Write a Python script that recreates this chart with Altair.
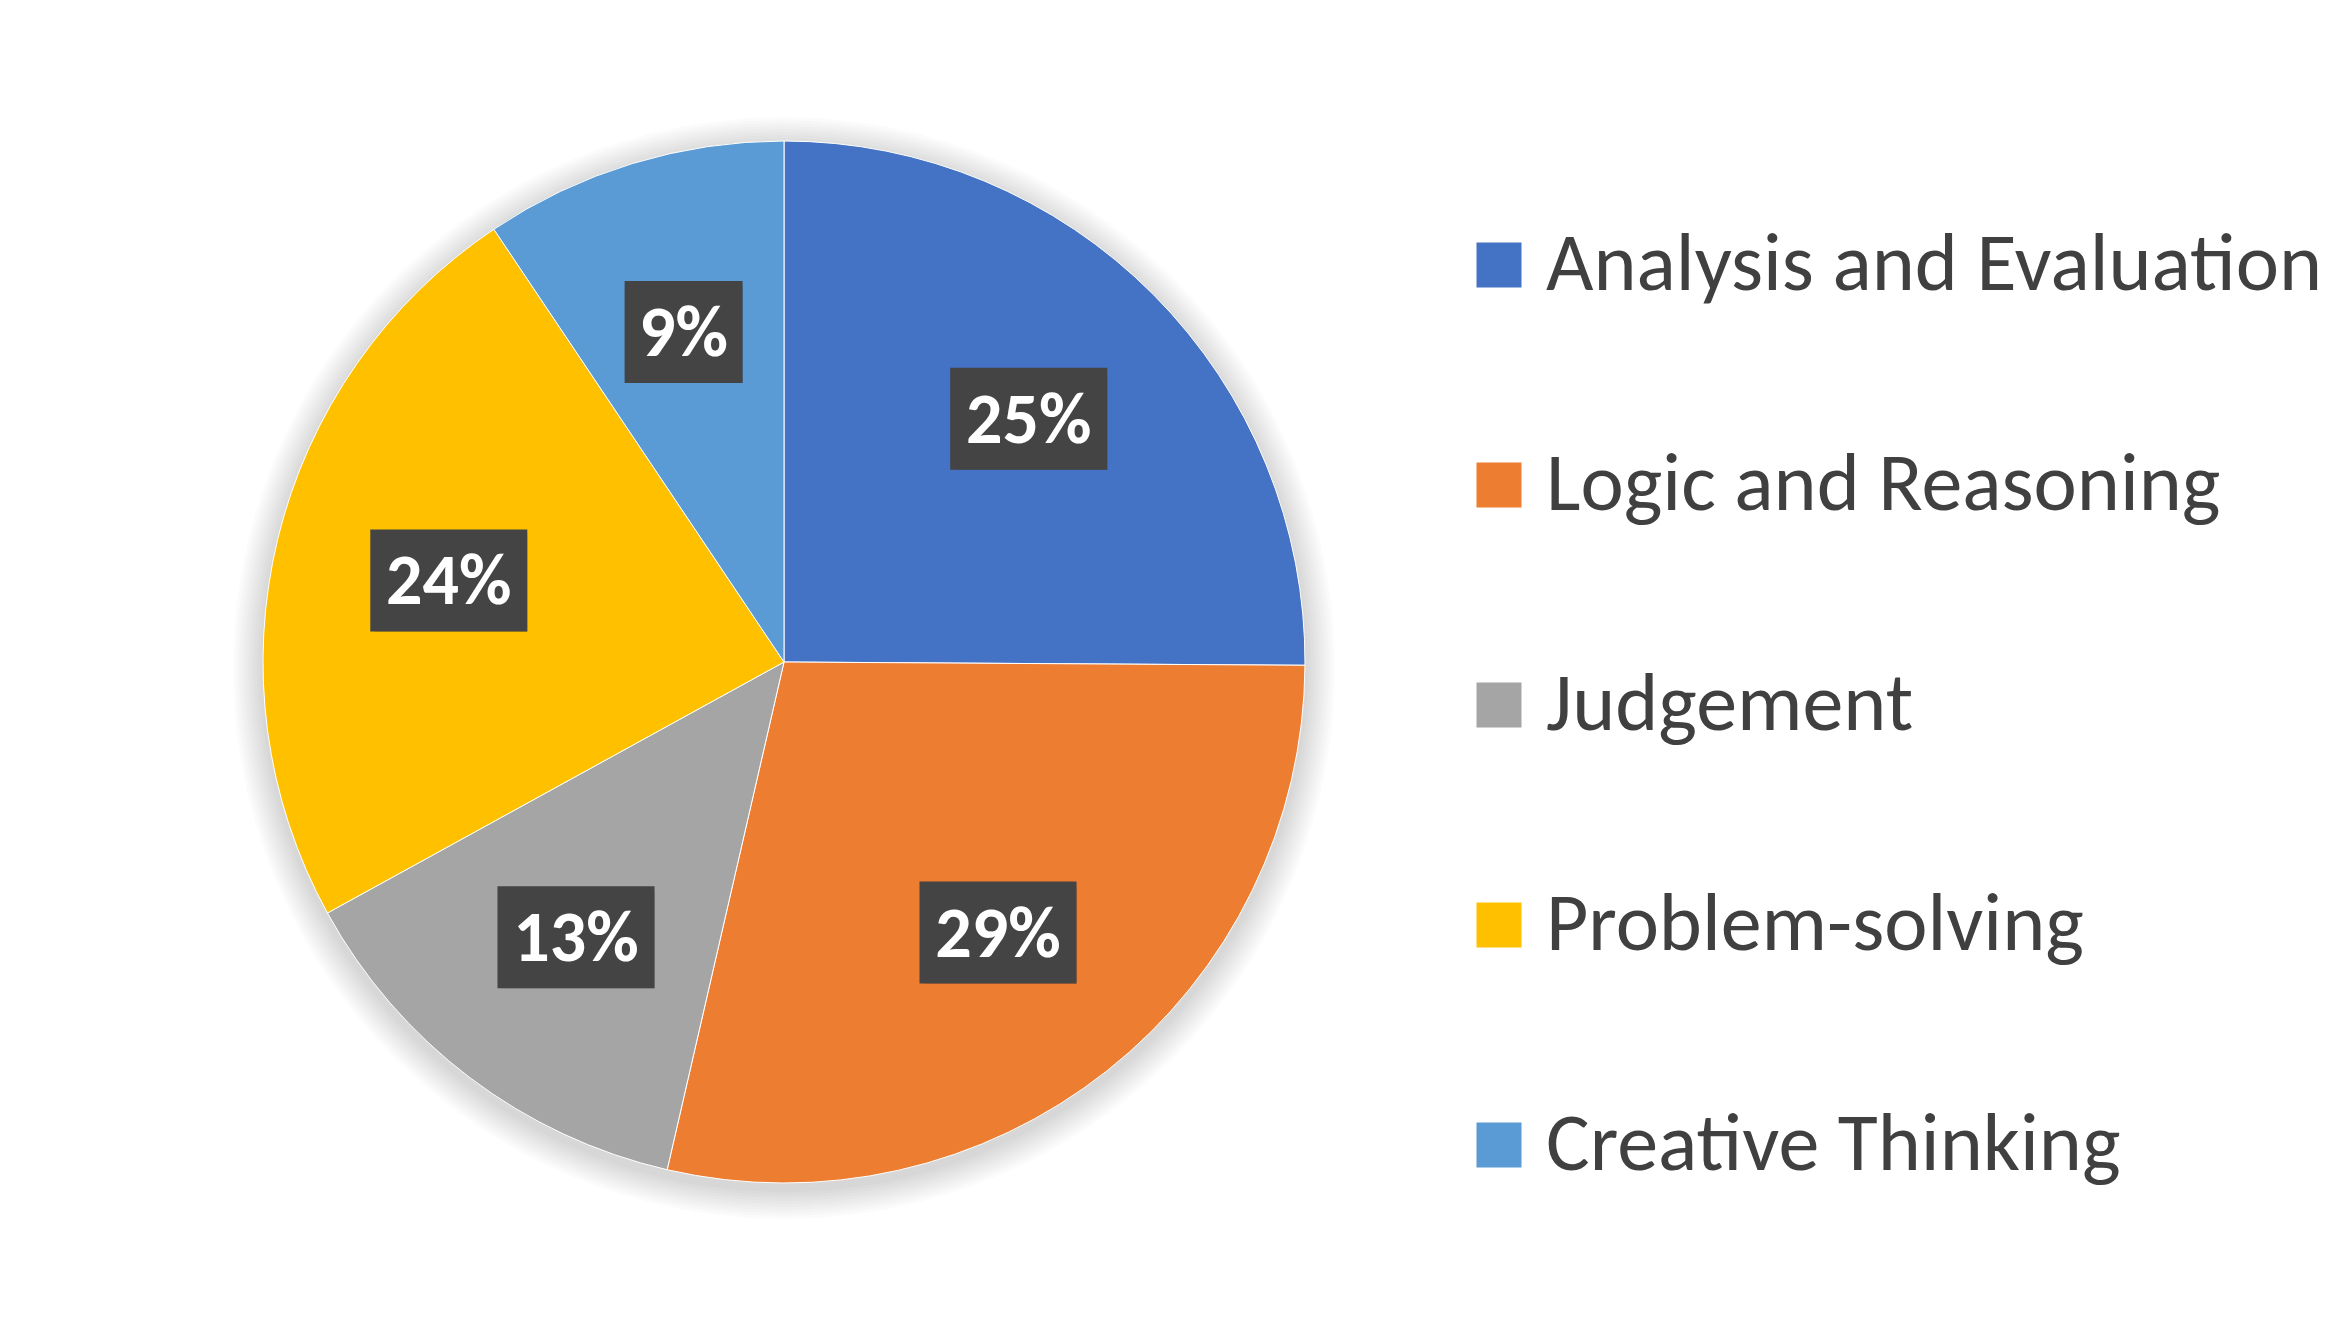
import altair as alt
import pandas as pd
import math

categories = ["Analysis and Evaluation", "Logic and Reasoning", "Judgement",
              "Problem-solving", "Creative Thinking"]
shares = [25.1, 28.5, 13.4, 23.6, 9.4]
labels = ["25%", "29%", "13%", "24%", "9%"]
colors = ["#4472C4", "#ED7D31", "#A5A5A5", "#FFC000", "#5B9BD5"]

df = pd.DataFrame({"category": categories, "share": shares, "label": labels,
                   "idx": list(range(len(categories)))})

W, H = 1542, 1298
R = 521
LR = 345
FONT = "Carlito, Lato, Open Sans, sans-serif"

xs = alt.Scale(domain=[0, W], range=[0, W])
ys = alt.Scale(domain=[0, H], range=[0, H])

# soft shadow around the pie
dummy = pd.DataFrame({"a": [0]})
shadows = []
for i in range(1, 11):
    shadows.append(
        alt.Chart(dummy).mark_arc(radius=R + 3 * i, theta=0, theta2=2 * math.pi,
                                  color="black", opacity=0.016)
        .encode(x=alt.value(W / 2), y=alt.value(H / 2 + 6))
    )

base = alt.Chart(df)

pie = base.mark_arc(radius=R, stroke="white", strokeWidth=1).encode(
    theta=alt.Theta("share:Q", stack=True),
    color=alt.Color("category:N", sort=categories,
                    scale=alt.Scale(domain=categories, range=colors),
                    legend=alt.Legend(title=None, orient="none", legendX=1445, legendY=211,
                                      symbolType="square", symbolSize=2025,
                                      symbolStrokeWidth=0, labelFontSize=82,
                                      labelFont=FONT, labelColor="#404040",
                                      rowPadding=138, labelOffset=6, labelLimit=2000)),
    order=alt.Order("idx:Q"),
    x=alt.value(W / 2), y=alt.value(H / 2),
)

lab = base.transform_window(
    cum="sum(share)", sort=[alt.SortField("idx")], frame=[None, 0]
).transform_joinaggregate(
    total="sum(share)"
).transform_calculate(
    ang="2*PI*(datum.cum - datum.share/2)/datum.total"
).transform_calculate(
    px=f"{W / 2} + {LR}*sin(datum.ang)",
    py=f"{H / 2} - {LR}*cos(datum.ang)",
    bw="39*length(datum.label) + 40",
).transform_calculate(
    x1="datum.px - datum.bw/2", x2="datum.px + datum.bw/2",
    y1="datum.py - 51", y2="datum.py + 51",
)

enc_rect = dict(
    x=alt.X("x1:Q", scale=xs, axis=None), x2="x2:Q",
    y=alt.Y("y1:Q", scale=ys, axis=None), y2="y2:Q",
)
box_shadow1 = lab.mark_rect(color="black", opacity=0.12, xOffset=8, yOffset=8).encode(**enc_rect)
box_shadow2 = lab.mark_rect(color="black", opacity=0.2, xOffset=4, yOffset=4).encode(**enc_rect)
box = lab.mark_rect(color="#444444").encode(**enc_rect)
txt = lab.mark_text(font=FONT, fontWeight="bold", fontSize=72, color="white",
                    baseline="middle", align="center", dy=2).encode(
    x=alt.X("px:Q", scale=xs, axis=None),
    y=alt.Y("py:Q", scale=ys, axis=None),
    text="label:N",
)

chart = alt.layer(*shadows, pie, box_shadow1, box_shadow2, box, txt).properties(
    width=W, height=H
).configure(background="white").configure_view(stroke=None)

chart.save("out.html", embed_options={"renderer": "svg", "actions": False})
